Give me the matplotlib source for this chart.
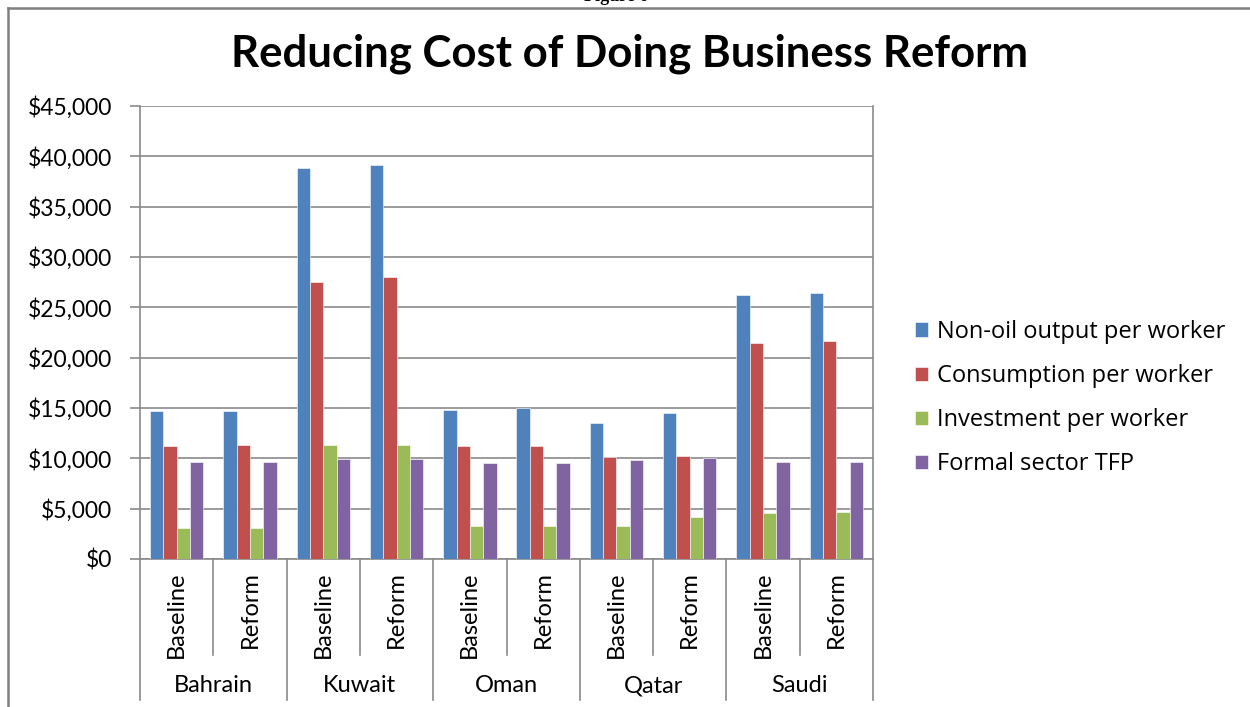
import numpy as np
import matplotlib
matplotlib.use("Agg")
from matplotlib import pyplot as plt
from matplotlib.lines import Line2D
from matplotlib.ticker import FuncFormatter

# Values per worker, US$
countries = ["Bahrain", "Kuwait", "Oman", "Qatar", "Saudi"]
scenarios = ["Baseline", "Reform"]
nonoil_output = [14700, 14700, 38850, 39100, 14800, 15000, 13500, 14500, 26200, 26400]
consumption = [11250, 11350, 27550, 28000, 11250, 11250, 10100, 10250, 21500, 21700]
investment = [3050, 3050, 11350, 11350, 3250, 3250, 3250, 4200, 4600, 4700]
formal_tfp = [9650, 9650, 9950, 9950, 9550, 9550, 9800, 10000, 9650, 9650]

series = [
    ("Non-oil output per worker", nonoil_output, "#4F81BD"),
    ("Consumption per worker", consumption, "#C0504D"),
    ("Investment per worker", investment, "#9BBB59"),
    ("Formal sector TFP", formal_tfp, "#8064A2"),
]

W, H = 1250, 707
plt.rcParams['font.family'] = ['Lato', 'DejaVu Sans']
fig = plt.figure(figsize=(W / 100, H / 100), dpi=100)

# plot area in pixels
left, right, top, bottom = 140, 873, 106, 559
ax = fig.add_axes([left / W, 1 - bottom / H, (right - left) / W, (bottom - top) / H])

grey = "#8a8a8a"
n = len(nonoil_output)
x = np.arange(n)
bw = 1 / 5.5
handles = []
for k, (name, vals, col) in enumerate(series):
    b = ax.bar(x + (k - 1.5) * bw, vals, bw, color=col, edgecolor="white",
               linewidth=0.4, label=name, zorder=3)
    handles.append(b)

ax.set_xlim(-0.5, n - 0.5)
ax.set_ylim(0, 45000)
ax.set_yticks(np.arange(0, 45001, 5000))
ax.yaxis.set_major_formatter(FuncFormatter(lambda v, p: "${:,.0f}".format(v)))
ax.tick_params(axis='y', direction='out', length=7, width=1.2, color=grey,
               pad=13, labelsize=16.5, labelcolor="black")
ax.set_xticks([])
ax.grid(axis='y', color=grey, linewidth=1.2, zorder=0)
for s in ["left", "right", "bottom"]:
    ax.spines[s].set_color(grey)
    ax.spines[s].set_linewidth(1.2)
ax.spines["top"].set_visible(False)

# two-level category axis below the bars
trans = ax.get_xaxis_transform()
ph = bottom - top
y_inner = -(655 - bottom) / ph
y_outer = -(700 - bottom) / ph
for i in range(n):
    ax.text(i, -(571 - bottom) / ph, scenarios[i % 2], rotation=90, ha='center',
            va='top', fontsize=17, transform=trans)
for i in range(1, n):
    yb = y_outer if i % 2 == 0 else y_inner
    ax.add_line(Line2D([i - 0.5, i - 0.5], [0, yb], color=grey, lw=1.2,
                       transform=trans, clip_on=False))
for xe in [-0.5, n - 0.5]:
    ax.add_line(Line2D([xe, xe], [0, y_outer], color=grey, lw=1.2,
                       transform=trans, clip_on=False))
for c, name in enumerate(countries):
    ax.text(2 * c + 0.5, -(686 - bottom) / ph, name, ha='center', va='center',
            fontsize=17, transform=trans)

fig.legend(handles=handles, loc='center left',
           bbox_to_anchor=(915 / W, 1 - 398 / H), frameon=False,
           handlelength=0.55, handleheight=0.55, handletextpad=0.4,
           labelspacing=0.85, borderpad=0, borderaxespad=0,
           prop={'family': ['Open Sans', 'DejaVu Sans'], 'size': 17})

fig.text(630 / W, 1 - 67 / H, "Reducing Cost of Doing Business Reform",
         ha='center', va='baseline', fontsize=31.5, fontweight='bold')

# caption of the page just above the chart box
fig.text(584 / W, 1 - 1 / H, "Figure 6", ha='left', va='baseline',
         fontsize=13, fontweight='bold', family='Liberation Serif')

# outer chart frame
fx, fy = 8 / W, 1 - 8 / H
fig.add_artist(Line2D([fx, fx], [0, fy], color="#808080", lw=1.8))
fig.add_artist(Line2D([fx, 1], [fy, fy], color="#808080", lw=1.8))

fig.savefig("out.png", dpi=100)
